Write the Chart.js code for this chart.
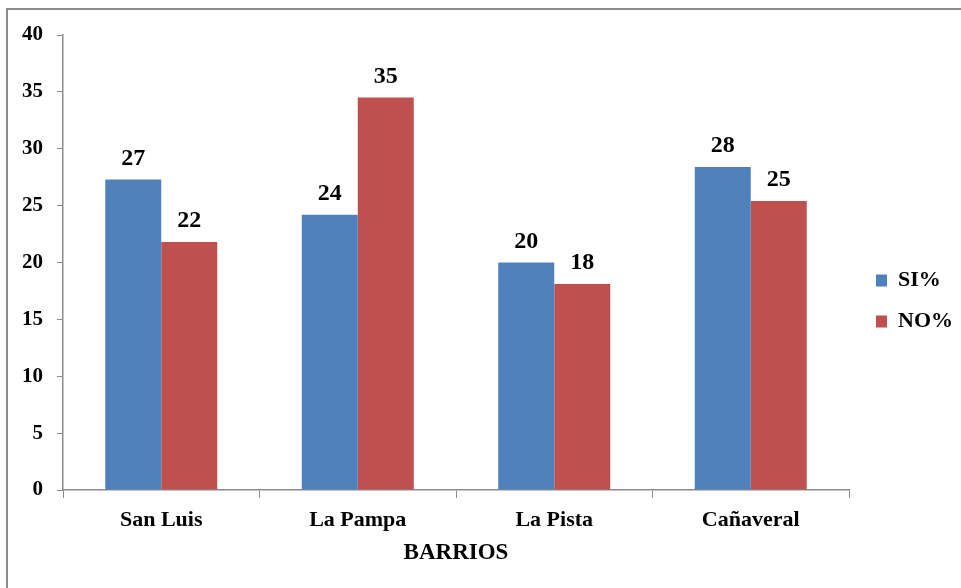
<!DOCTYPE html>
<html>
<head>
<meta charset="utf-8">
<script src="https://cdn.jsdelivr.net/npm/chart.js@4"></script>
<style>
  html, body { margin: 0; padding: 0; background: #fff; overflow: hidden; }
  #wrap { position: relative; width: 961px; height: 588px; }
  #frame { position: absolute; left: 6px; top: 8px; width: 1000px; height: 1000px; border: 2px solid #8c8c8c; }
  canvas { position: absolute; left: 0; top: 0; }
</style>
</head>
<body>
<div id="wrap">
  <div id="frame"></div>
  <canvas id="myChart" width="961" height="588"></canvas>
</div>
<script>
const barrios = ['San Luis', 'La Pampa', 'La Pista', 'Cañaveral'];
const siValues = [27.3, 24.2, 20.0, 28.4];
const noValues = [21.8, 34.5, 18.1, 25.4];
const yTicks = { min: 0, max: 40, step: 5 };

const serif = '"Liberation Serif", "Times New Roman", serif';

// draws the rounded value above each bar
const valueLabels = {
  id: 'valueLabels',
  afterDatasetsDraw(chart) {
    const ctx = chart.ctx;
    ctx.save();
    ctx.font = 'bold 24px ' + serif;
    ctx.fillStyle = '#000';
    ctx.textAlign = 'center';
    ctx.textBaseline = 'bottom';
    chart.data.datasets.forEach((ds, i) => {
      chart.getDatasetMeta(i).data.forEach((bar, j) => {
        ctx.fillText(Math.round(ds.data[j]), bar.x, bar.y - 9);
      });
    });
    ctx.restore();
  }
};

// nudge the legend a little to the right, like the original sheet
const legendNudge = {
  id: 'legendNudge',
  afterLayout(chart) {
    const lg = chart.legend;
    lg.left += 8; lg.right += 8;
  }
};

const ctx = document.getElementById('myChart').getContext('2d');
const myChart = new Chart(ctx, {
  type: 'bar',
  data: {
    labels: barrios,
    datasets: [
      { label: 'SI%', data: siValues, backgroundColor: '#4f81bd' },
      { label: 'NO%', data: noValues, backgroundColor: '#c0504d' }
    ]
  },
  options: {
    responsive: false,
    animation: false,
    layout: { padding: { left: 8, top: 35, right: 6, bottom: 21 } },
    datasets: { bar: { categoryPercentage: 0.57, barPercentage: 1.0 } },
    plugins: {
      legend: {
        position: 'right',
        labels: {
          font: { family: serif, size: 22, weight: 'bold' },
          color: '#000',
          boxWidth: 11,
          boxHeight: 12,
          padding: 19
        }
      },
      tooltip: { enabled: false }
    },
    scales: {
      x: {
        grid: { offset: true, drawOnChartArea: false, tickLength: 8, color: '#8c8c8c' },
        border: { color: '#8c8c8c', width: 1.5 },
        ticks: { font: { family: serif, size: 22, weight: 'bold' }, color: '#000', padding: 9 },
        title: { display: true, text: 'BARRIOS', font: { family: serif, size: 23, weight: 'bold' }, color: '#000', padding: { top: -3, bottom: 0 } }
      },
      y: {
        min: yTicks.min,
        max: yTicks.max,
        grid: { drawOnChartArea: false, tickLength: 6, color: '#8c8c8c' },
        border: { color: '#8c8c8c', width: 1.5 },
        ticks: { stepSize: yTicks.step, font: { family: serif, size: 21, weight: 'bold' }, color: '#000', padding: 14 }
      }
    }
  },
  plugins: [valueLabels, legendNudge]
});
</script>
</body>
</html>
